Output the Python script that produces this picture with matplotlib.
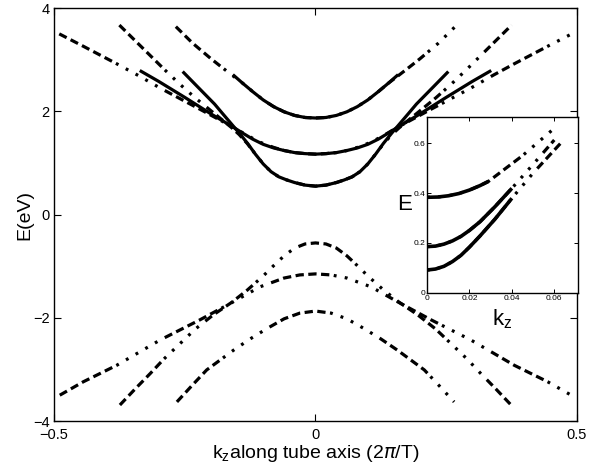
import matplotlib
matplotlib.use("Agg")
import matplotlib.pyplot as plt
import numpy as np

plt.rcParams['font.family'] = ['Liberation Sans', 'DejaVu Sans']

# ---------------- data (k >= 0 half; bands are symmetric in k) -------------
# conduction band A (lowest, E(0) ~ 0.55)
kA_dd = [0, 0.02, 0.04, 0.055, 0.07, 0.085, 0.1, 0.115, 0.13, 0.146, 0.16, 0.178,
         0.195, 0.23, 0.26, 0.29, 0.316, 0.345, 0.375]
EA_dd = [0.55, 0.57, 0.62, 0.67, 0.73, 0.83, 0.98, 1.17, 1.37, 1.55, 1.68, 1.83,
         1.97, 2.26, 2.53, 2.82, 3.08, 3.37, 3.67]
kA_s = [0, 0.02, 0.04, 0.055, 0.07, 0.085, 0.1, 0.115, 0.13, 0.146, 0.162, 0.178,
        0.193, 0.225, 0.254]
EA_s = [0.55, 0.57, 0.62, 0.67, 0.73, 0.83, 0.98, 1.17, 1.38, 1.58, 1.77, 1.96,
        2.14, 2.47, 2.77]
# conduction band B (E(0) ~ 1.17)
kB_dd = [0, 0.02, 0.04, 0.06, 0.08, 0.106, 0.13, 0.157, 0.19, 0.221, 0.26, 0.297,
         0.34, 0.38, 0.444, 0.49]
EB_dd = [1.17, 1.18, 1.20, 1.24, 1.30, 1.40, 1.53, 1.69, 1.87, 2.04, 2.25, 2.45,
         2.70, 2.92, 3.26, 3.50]
kB_s = [0, 0.02, 0.04, 0.06, 0.08, 0.1, 0.12, 0.138, 0.16, 0.18, 0.2, 0.25, 0.3, 0.336]
EB_s = [1.17, 1.18, 1.20, 1.24, 1.29, 1.36, 1.46, 1.57, 1.71, 1.83, 1.95, 2.27, 2.58, 2.79]
# conduction band C (E(0) ~ 1.87)
kC_dd = [0, 0.02, 0.04, 0.06, 0.08, 0.1, 0.12, 0.14, 0.157, 0.18, 0.2, 0.235, 0.267]
EC_dd = [1.87, 1.88, 1.92, 1.99, 2.09, 2.22, 2.38, 2.55, 2.68, 2.86, 3.02, 3.32, 3.64]
kC_s = [0, 0.02, 0.04, 0.06, 0.08, 0.1, 0.12, 0.14, 0.158]
EC_s = [1.87, 1.88, 1.92, 1.99, 2.09, 2.22, 2.38, 2.55, 2.71]

# valence bands (energies below zero)
kVA = [0, 0.02, 0.04, 0.06, 0.08, 0.1, 0.13, 0.16, 0.195, 0.23, 0.259, 0.29, 0.316,
       0.345, 0.374]
EVA = [-0.55, -0.57, -0.65, -0.80, -0.99, -1.19, -1.46, -1.70, -1.94, -2.22, -2.50,
       -2.80, -3.08, -3.38, -3.69]
kVB = [0, 0.03, 0.06, 0.106, 0.157, 0.221, 0.297, 0.38, 0.444, 0.489]
EVB = [-1.15, -1.17, -1.23, -1.40, -1.69, -2.04, -2.43, -2.92, -3.24, -3.50]
kVC = [0, 0.03, 0.06, 0.093, 0.125, 0.157, 0.208, 0.235, 0.265]
EVC = [-1.87, -1.91, -2.02, -2.21, -2.41, -2.63, -3.01, -3.30, -3.63]

# inset curves
ki_top_s = [0, 0.005, 0.01, 0.015, 0.02, 0.025, 0.029]
Ei_top_s = [0.383, 0.384, 0.389, 0.398, 0.412, 0.430, 0.447]
ki_top_dd = [0, 0.005, 0.01, 0.015, 0.02, 0.025, 0.029, 0.045, 0.060]
Ei_top_dd = [0.383, 0.384, 0.389, 0.398, 0.412, 0.430, 0.447, 0.55, 0.66]
ki_mid_s = [0, 0.004, 0.008, 0.012, 0.016, 0.02, 0.025, 0.032, 0.040]
Ei_mid_s = [0.185, 0.187, 0.195, 0.208, 0.226, 0.250, 0.285, 0.345, 0.419]
ki_mid_dd = [0, 0.004, 0.008, 0.012, 0.016, 0.02, 0.025, 0.032, 0.040, 0.050, 0.060]
Ei_mid_dd = [0.185, 0.187, 0.195, 0.208, 0.226, 0.250, 0.285, 0.345, 0.419, 0.515, 0.613]
ki_bot_s = [0, 0.004, 0.008, 0.012, 0.016, 0.02, 0.025, 0.032, 0.040]
Ei_bot_s = [0.091, 0.095, 0.106, 0.125, 0.150, 0.183, 0.228, 0.295, 0.379]
ki_bot_dd = [0, 0.004, 0.008, 0.012, 0.016, 0.02, 0.025, 0.032, 0.040, 0.050, 0.063]
Ei_bot_dd = [0.091, 0.095, 0.106, 0.125, 0.150, 0.183, 0.228, 0.295, 0.379, 0.48, 0.60]

xticks_main = [-0.5, 0, 0.5]
yticks_main = [-4, -2, 0, 2, 4]
xlabels_main = ['\u22120.5', '0', '0.5']
ylabels_main = ['\u22124', '\u22122', '0', '2', '4']
xticks_in = [0, 0.02, 0.04, 0.06]
yticks_in = [0, 0.2, 0.4, 0.6]
xlabels_in = ['0', '0.02', '0.04', '0.06']
ylabels_in = ['0', '0.2', '0.4', '0.6']


def full(k, E):
    k = np.asarray(k, float)
    E = np.asarray(E, float)
    return np.concatenate([-k[::-1], k[1:]]), np.concatenate([E[::-1], E[1:]])


DD = (0, tuple([2.6, 1.4] * 5 + [0.9, 2.6] * 5))
DDi = (0, tuple([0.9, 2.6] * 4 + [2.6, 1.4] * 5))
LW = 2.3

fig = plt.figure(figsize=(5.89, 4.74), dpi=100)
ax = fig.add_axes([0.0917, 0.1118, 0.8879, 0.8712])

for kd, Ed in [(kA_dd, EA_dd), (kB_dd, EB_dd), (kC_dd, EC_dd),
               (kVA, EVA), (kVB, EVB), (kVC, EVC)]:
    x, y = full(kd, Ed)
    ax.plot(x, y, color='black', lw=LW, linestyle=DD, dash_capstyle='butt')
for ks, Es in [(kA_s, EA_s), (kB_s, EB_s), (kC_s, EC_s)]:
    xs, ys = full(ks, Es)
    ax.plot(xs, ys, color='black', lw=LW, solid_capstyle='butt')

ax.set_xlim(-0.5, 0.5)
ax.set_ylim(-4, 4)
ax.set_xticks(xticks_main)
ax.set_xticklabels(xlabels_main)
ax.set_yticks(yticks_main)
ax.set_yticklabels(ylabels_main)
ax.tick_params(direction='in', length=5, width=0.8, top=True, right=True,
               labelsize=10.5)
ax.tick_params(axis='x', pad=5)
ax.tick_params(axis='y', pad=3)
for s in ax.spines.values():
    s.set_linewidth(1.0)
ax.set_xlabel(r'k$_{\mathregular{z}}$along tube axis (2$\pi$/T)', fontsize=14, labelpad=1)
ax.set_ylabel('E(eV)', fontsize=14, labelpad=0)

# inset
axi = fig.add_axes([0.725, 0.3825, 0.2560, 0.3705])
axi.set_facecolor('white')
for kd, Ed, ks, Es in [(ki_top_dd, Ei_top_dd, ki_top_s, Ei_top_s),
                       (ki_mid_dd, Ei_mid_dd, ki_mid_s, Ei_mid_s),
                       (ki_bot_dd, Ei_bot_dd, ki_bot_s, Ei_bot_s)]:
    axi.plot(kd, Ed, color='black', lw=LW, linestyle=DDi, dash_capstyle='butt')
    axi.plot(ks, Es, color='black', lw=LW + 0.3, solid_capstyle='butt')
axi.set_xlim(0, 0.0711)
axi.set_ylim(0, 0.705)
axi.set_xticks(xticks_in)
axi.set_xticklabels(xlabels_in)
axi.set_yticks(yticks_in)
axi.set_yticklabels(ylabels_in)
axi.tick_params(direction='in', length=3, width=0.7, top=True, right=True,
                labelsize=6, pad=1.5)
for s in axi.spines.values():
    s.set_linewidth(1.0)
axi.set_xlabel(r'k$_{\mathregular{z}}$', fontsize=16, labelpad=4)
axi.set_ylabel('E', fontsize=16, rotation=0, labelpad=6, va='center')

fig.savefig('out.png', dpi=100)
